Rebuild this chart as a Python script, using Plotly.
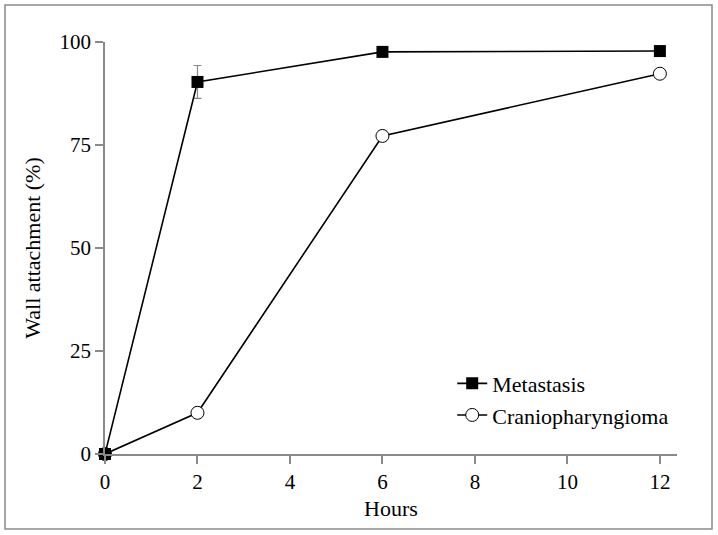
import plotly.graph_objects as go

hours = [0, 2, 6, 12]
metastasis = [0, 90.3, 97.6, 97.8]
metastasis_err = [0, 4, 0, 0]
cranio = [0, 10, 77.2, 92.3]
x_ticks = [0, 2, 4, 6, 8, 10, 12]
y_ticks = [0, 25, 50, 75, 100]

FONT = "Liberation Serif"
AX = "#8a8a8a"

fig = go.Figure()
fig.add_trace(go.Scatter(
    x=hours, y=cranio, name="Craniopharyngioma", mode="lines+markers",
    line=dict(color="black", width=1.6),
    marker=dict(symbol="circle", size=13, color="white", line=dict(color="black", width=1)),
    cliponaxis=False,
))
fig.add_trace(go.Scatter(
    x=hours, y=metastasis, name="Metastasis", mode="lines+markers",
    line=dict(color="black", width=1.6),
    marker=dict(symbol="square", size=12, color="black"),
    error_y=dict(type="data", array=metastasis_err, color=AX, thickness=1.2, width=4),
    cliponaxis=False,
))

fig.update_layout(
    width=718, height=535,
    margin=dict(l=105, r=41, t=42, b=81),
    paper_bgcolor="white", plot_bgcolor="white",
    font=dict(family=FONT, size=20, color="black"),
    showlegend=True,
    legend=dict(x=0.607, y=0.222, xanchor="left", yanchor="top",
                traceorder="reversed", bgcolor="rgba(0,0,0,0)",
                font=dict(family=FONT, size=22), tracegroupgap=0, itemwidth=30),
    xaxis=dict(range=[0, 12.37], tickvals=x_ticks, showgrid=False, zeroline=False,
               showline=True, linecolor=AX, linewidth=1.5, ticks="outside",
               tickcolor=AX, ticklen=8, tickwidth=1.5,
               tickfont=dict(family=FONT, size=21),
               title=dict(text="Hours", font=dict(family=FONT, size=22), standoff=8)),
    yaxis=dict(range=[0, 100], tickvals=y_ticks, showgrid=False, zeroline=False,
               showline=True, linecolor=AX, linewidth=1.5, ticks="outside",
               tickcolor=AX, ticklen=8, tickwidth=1.5,
               tickfont=dict(family=FONT, size=21),
               title=dict(text="Wall attachment (%)", font=dict(family=FONT, size=22), standoff=13)),
    shapes=[dict(type="rect", xref="paper", yref="paper",
                 x0=-0.1748, x1=1.0612, y0=-0.182, y1=1.0898,
                 line=dict(color=AX, width=1.5), fillcolor="rgba(0,0,0,0)", layer="below")],
)

fig.write_html("out.html", config={"displayModeBar": False},
               post_script="document.body.style.margin='0';")
